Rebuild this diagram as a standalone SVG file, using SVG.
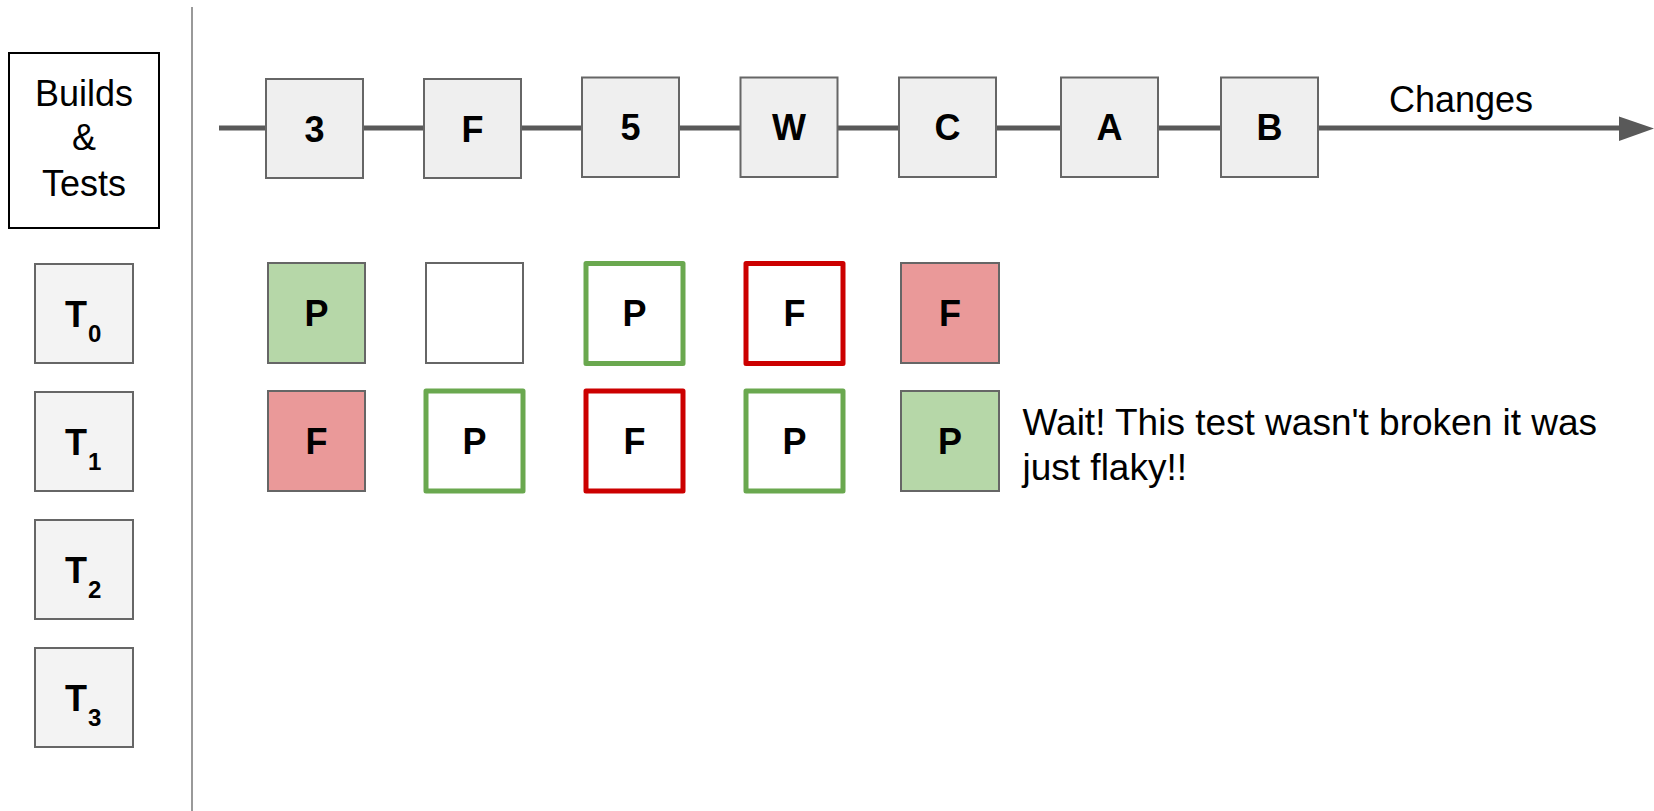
<svg xmlns="http://www.w3.org/2000/svg" width="1654" height="811" viewBox="0 0 1654 811">
  <style>
    text { font-family: "Liberation Sans", Arial, sans-serif; fill: #000; }
    .lbl { font-size: 36px; font-weight: bold; text-anchor: middle; }
    .txt { font-size: 36px; }
    .note { font-size: 37px; }
    .sub { font-size: 24px; font-weight: bold; }
    .change { fill: #efefef; stroke: #666; stroke-width: 2; }
    .test { fill: #f3f3f3; stroke: #666; stroke-width: 2; }
    .pass-fill { fill: #b6d7a8; stroke: #666; stroke-width: 2; }
    .fail-fill { fill: #ea9999; stroke: #666; stroke-width: 2; }
    .empty { fill: #fff; stroke: #666; stroke-width: 2; }
    .pass-line { fill: #fff; stroke: #6aa84f; stroke-width: 5; stroke-linejoin: round; }
    .fail-line { fill: #fff; stroke: #cc0000; stroke-width: 5; stroke-linejoin: round; }
  </style>

  <!-- timeline axis and divider -->
  <g id="connectors">
    <line x1="192" y1="7" x2="192" y2="811" stroke="#999" stroke-width="2"/>
    <line x1="219" y1="128" x2="1622" y2="128" stroke="#595959" stroke-width="5"/>
    <polygon points="1619,116.5 1654,128.5 1619,141" fill="#595959"/>
  </g>

  <!-- header -->
  <g id="header">
    <rect x="9" y="53" width="150" height="175" fill="#fff" stroke="#000" stroke-width="2"/>
    <text class="txt" x="84" y="106" text-anchor="middle">Builds</text>
    <text class="txt" x="84" y="150" text-anchor="middle">&amp;</text>
    <text class="txt" x="84" y="196" text-anchor="middle">Tests</text>
  </g>

  <!-- test labels -->
  <g id="test-T0">
    <rect class="test" x="35" y="264" width="98" height="99"/>
    <text x="65" y="327" style="font-size:36px;font-weight:bold">T<tspan class="sub" dx="1" dy="14.5">0</tspan></text>
  </g>
  <g id="test-T1">
    <rect class="test" x="35" y="392" width="98" height="99"/>
    <text x="65" y="455" style="font-size:36px;font-weight:bold">T<tspan class="sub" dx="1" dy="14.5">1</tspan></text>
  </g>
  <g id="test-T2">
    <rect class="test" x="35" y="520" width="98" height="99"/>
    <text x="65" y="583" style="font-size:36px;font-weight:bold">T<tspan class="sub" dx="1" dy="14.5">2</tspan></text>
  </g>
  <g id="test-T3">
    <rect class="test" x="35" y="648" width="98" height="99"/>
    <text x="65" y="711" style="font-size:36px;font-weight:bold">T<tspan class="sub" dx="1" dy="14.5">3</tspan></text>
  </g>

  <!-- changes along the timeline -->
  <g id="change-3">
    <rect class="change" x="266" y="79" width="97" height="99"/>
    <text class="lbl" x="314.5" y="142">3</text>
  </g>
  <g id="change-F">
    <rect class="change" x="424" y="79" width="97" height="99"/>
    <text class="lbl" x="472.5" y="142">F</text>
  </g>
  <g id="change-5">
    <rect class="change" x="582" y="77.5" width="97" height="99.5"/>
    <text class="lbl" x="630.5" y="140">5</text>
  </g>
  <g id="change-W">
    <rect class="change" x="740.5" y="77.5" width="97" height="99.5"/>
    <text class="lbl" x="789" y="140">W</text>
  </g>
  <g id="change-C">
    <rect class="change" x="899" y="77.5" width="97" height="99.5"/>
    <text class="lbl" x="947.5" y="140">C</text>
  </g>
  <g id="change-A">
    <rect class="change" x="1061" y="77.5" width="97" height="99.5"/>
    <text class="lbl" x="1109.5" y="140">A</text>
  </g>
  <g id="change-B">
    <rect class="change" x="1221" y="77.5" width="97" height="99.5"/>
    <text class="lbl" x="1269.5" y="140">B</text>
  </g>
  <g id="axis-label">
    <text class="txt" x="1389" y="112">Changes</text>
  </g>

  <!-- T0 results -->
  <g id="r0-c1">
    <rect class="pass-fill" x="268" y="263" width="97" height="100"/>
    <text class="lbl" x="316.5" y="326">P</text>
  </g>
  <g id="r0-c2">
    <rect class="empty" x="426" y="263" width="97" height="100"/>
  </g>
  <g id="r0-c3">
    <rect class="pass-line" x="586" y="263.5" width="97" height="100"/>
    <text class="lbl" x="634.5" y="326">P</text>
  </g>
  <g id="r0-c4">
    <rect class="fail-line" x="746" y="263.5" width="97" height="100"/>
    <text class="lbl" x="794.5" y="326">F</text>
  </g>
  <g id="r0-c5">
    <rect class="fail-fill" x="901" y="263" width="98" height="100"/>
    <text class="lbl" x="950" y="326">F</text>
  </g>

  <!-- T1 results -->
  <g id="r1-c1">
    <rect class="fail-fill" x="268" y="391" width="97" height="100"/>
    <text class="lbl" x="316.5" y="454">F</text>
  </g>
  <g id="r1-c2">
    <rect class="pass-line" x="426" y="391" width="97" height="100"/>
    <text class="lbl" x="474.5" y="454">P</text>
  </g>
  <g id="r1-c3">
    <rect class="fail-line" x="586" y="391" width="97" height="100"/>
    <text class="lbl" x="634.5" y="454">F</text>
  </g>
  <g id="r1-c4">
    <rect class="pass-line" x="746" y="391" width="97" height="100"/>
    <text class="lbl" x="794.5" y="454">P</text>
  </g>
  <g id="r1-c5">
    <rect class="pass-fill" x="901" y="391" width="98" height="100"/>
    <text class="lbl" x="950" y="454">P</text>
  </g>

  <!-- note -->
  <g id="note">
    <text class="note" x="1022.5" y="435">Wait! This test wasn't broken it was</text>
    <text class="note" x="1022.5" y="479.5">just flaky!!</text>
  </g>
</svg>
